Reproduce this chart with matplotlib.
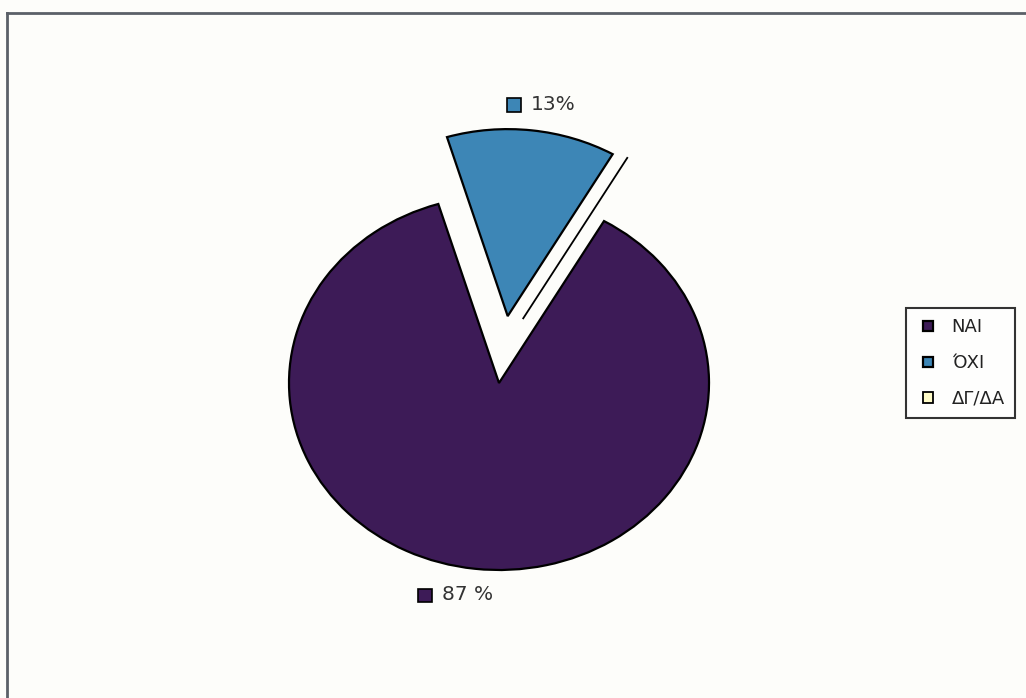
import matplotlib
matplotlib.use("Agg")
import matplotlib.pyplot as plt
from matplotlib.patches import Rectangle
from matplotlib.legend_handler import HandlerPatch
from matplotlib.offsetbox import AnnotationBbox, HPacker, DrawingArea, TextArea
import numpy as np

# Survey answers and their shares (%)
categories = ["NAI", "ΌΧΙ", "ΔΓ/ΔΑ"]
shares = [87, 13, 0]
label_texts = ["87 %", "13%", ""]
colors = ["#3d1b57", "#3d86b6", "#fffcc8"]
explode = [0.0, 0.36, 0.36]

W, H = 1026, 698
fig = plt.figure(figsize=(W / 100, H / 100), dpi=100)
fig.patch.set_facecolor("#fdfdfa")

ax = fig.add_axes([0, 0, 1, 1])
ax.set_facecolor("none")

wedges, _ = ax.pie(
    shares, colors=colors, explode=explode, startangle=60,
    counterclock=False, radius=1.0, center=(0, 0),
    wedgeprops=dict(edgecolor="black", linewidth=1.6),
)

# The empty ΔΓ/ΔΑ slice is only a line; pull it out between the
# ΌΧΙ wedge and the NAI wedge so it stays visible.
w_zero, w_oxi = wedges[2], wedges[1]
a = np.deg2rad((w_zero.theta1 + (w_oxi.theta1 + w_oxi.theta2) / 2) / 2)
w_zero.set_center((explode[2] * np.cos(a), explode[2] * np.sin(a)))
w_zero.set_linewidth(1.3)

# Slightly flattened pie: 1 unit = 210 px across, 187 px down
cx, cy, rx, ry = 499, 383, 210, 187
ax.set_aspect("auto")
ax.set_xlim(-cx / rx, (W - cx) / rx)
ax.set_ylim(-(H - cy) / ry, cy / ry)
ax.axis("off")

# Data labels with a small colour key, placed just outside each wedge
for w, txt, col in zip(wedges, label_texts, colors):
    if not txt:
        continue
    mid = np.deg2rad((w.theta1 + w.theta2) / 2)
    ox, oy = w.center
    r = 1.14
    x, y = ox + r * np.cos(mid), oy + r * np.sin(mid)
    da = DrawingArea(11, 11, 0, 0)
    da.add_artist(Rectangle((0, 0), 10, 10, facecolor=col, edgecolor="black", lw=1.2))
    ta = TextArea(txt, textprops=dict(fontsize=14.5, color="#333333",
                                      family="DejaVu Sans"))
    box = HPacker(children=[da, ta], align="center", pad=0, sep=6)
    ab = AnnotationBbox(box, (x, y), frameon=False,
                        box_alignment=(0.56 - 1.3 * np.cos(mid), 0.5))
    ax.add_artist(ab)


def small_square(legend, orig_handle, xdescent, ydescent, width, height, fontsize):
    s = 7.5
    return Rectangle((-xdescent + 4.7, -ydescent + (height - s) / 2), s, s)


leg = ax.legend(
    wedges, categories, loc="upper left",
    bbox_to_anchor=(906 / W, 1 - 308 / H), bbox_transform=fig.transFigure,
    prop=dict(family="DejaVu Sans", size=13),
    frameon=True, fancybox=False, edgecolor="black", facecolor="white",
    handlelength=1.55, handleheight=0.7, handletextpad=0.4,
    labelspacing=0.98, borderpad=0.58, borderaxespad=0,
    handler_map={type(wedges[0]): HandlerPatch(patch_func=small_square)},
)
leg.get_frame().set_linewidth(1.5)
for t in leg.get_texts():
    t.set_color("#222222")

# Outer chart-area border (top and left edges visible)
fig.add_artist(plt.Line2D([7 / W, 1], [1 - 13 / H, 1 - 13 / H],
                          transform=fig.transFigure, color="#5b6068", lw=2))
fig.add_artist(plt.Line2D([7 / W, 7 / W], [0, 1 - 13 / H],
                          transform=fig.transFigure, color="#5b6068", lw=2))

fig.savefig("out.png", dpi=100, facecolor=fig.get_facecolor())
